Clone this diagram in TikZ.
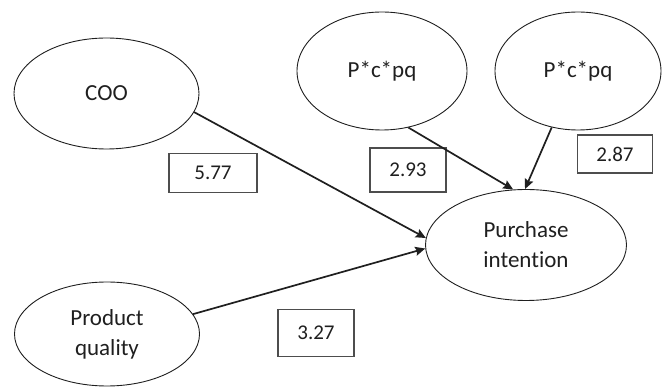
\documentclass[tikz,border=0pt]{standalone}
\usepackage{fontspec}
\setmainfont[Ligatures=NoCommon]{Carlito}
\usepackage{xcolor}
\usepackage{tikz}
\usetikzlibrary{positioning,arrows.meta,shapes.geometric}
\definecolor{ink}{HTML}{1F1F1F}
\definecolor{frame}{HTML}{4D4D4D}
\tikzset{
  latent/.style={ellipse, draw=ink, line width=0.9pt, inner sep=0pt, text=ink, align=center,
    font=\fontsize{23}{30}\selectfont},
  coef/.style={rectangle, draw=frame, line width=1.2pt, inner sep=0pt, text=ink,
    font=\fontsize{21}{25}\selectfont},
  arr/.style={-{Stealth[length=10pt,width=9pt,inset=1.5pt]}, line width=1.7pt, draw=ink},
}
\begin{document}
\begin{tikzpicture}[x=1pt,y=-1pt]
        \useasboundingbox (0,0) rectangle (665,387);
        \node[latent, minimum width=185pt, minimum height=111pt] (coo) at (106.5,93.5) {COO};
        \node[latent, minimum width=170pt, minimum height=118pt] (pcp1) at (382,71) {P*c*pq};
        \node[latent, minimum width=166pt, minimum height=118pt] (pcp2) at (578,71) {P*c*pq};
        \node[latent, minimum width=201pt, minimum height=111pt] (pi) at (526,245) {Purchase\\intention};
        \node[latent, minimum width=185pt, minimum height=104pt] (pq) at (107,334) {Product\\quality};
        \node[coef, minimum width=88pt, minimum height=39pt] (c577) at (213,173) {5.77};
        \node[coef, minimum width=76pt, minimum height=44pt] (c293) at (408,170) {2.93};
        \node[coef, minimum width=75pt, minimum height=38pt] (c287) at (615,154) {2.87};
        \node[coef, minimum width=76pt, minimum height=47pt] (c327) at (316,333) {3.27};
        \draw[arr] (coo.-12) -- (pi.176);
        \draw[arr] (pq.13) -- (pi.182);
        \draw[arr] (pcp1.-65) -- (pi.103);
        \draw[arr] (pcp2.-115) -- (pi.91);
      \end{tikzpicture}
\end{document}
